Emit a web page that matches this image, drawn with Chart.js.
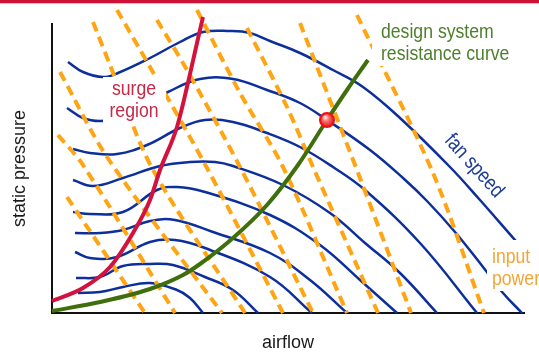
<!DOCTYPE html>
<html>
<head>
<meta charset="utf-8">
<script src="https://cdn.jsdelivr.net/npm/chart.js@4"></script>
<style>
  html, body { margin: 0; padding: 0; background: #fff; }
  #wrap { width: 539px; height: 353px; position: relative; }
</style>
</head>
<body>
<div id="wrap"><canvas id="fanChart"></canvas></div>
<script>
// fan speed curves, one list per speed (top speed first)
const fanAirflow = [
  [16, 31, 51, 66, 98, 128, 151, 178, 198, 218, 248, 281, 311, 348, 398, 428, 463, 488],
  [15, 31, 48, 68, 93, 116, 148, 181, 215, 248, 275, 318, 351, 375, 403, 431, 451, 470],
  [21, 38, 65, 95, 128, 153, 181, 215, 248, 281, 313, 368, 425],
  [21, 41, 71, 108, 138, 163, 181, 231, 278, 313, 348, 385],
  [21, 38, 71, 105, 125, 153, 218, 268, 308, 345],
  [23, 48, 71, 98, 123, 161, 218, 258, 295],
  [23, 38, 65, 98, 123, 153, 218, 260],
  [24, 48, 71, 98, 121, 153, 181, 206],
  [26, 48, 71, 98, 125, 138, 151]
];
const fanPressure = [
  [251, 241, 236, 240, 255, 271, 281, 282, 280, 272, 260, 243, 226, 195, 146, 113, 73, 45],
  [205, 195, 192, 195, 208, 221, 234, 234, 223, 210, 193, 163, 135, 112, 81, 46, 20, 0],
  [164, 160, 159, 168, 185, 193, 191, 180, 166, 146, 123, 70, 0],
  [133, 127, 135, 147, 151, 151, 147, 128, 100, 70, 40, 0],
  [101, 99, 101, 123, 126, 121, 98, 68, 33, 0],
  [80, 80, 83, 92, 93, 81, 60, 33, 0],
  [61, 55, 56, 71, 73, 65, 36, 0],
  [35, 36, 47, 49, 48, 36, 23, 0],
  [20, 21, 26, 30, 23, 15, 0]
];

// input power lines (dashed)
const powerAirflow = [
  [15, 93],
  [6, 31, 123],
  [8, 55, 170],
  [41, 58, 100, 193],
  [65, 98, 155, 231],
  [105, 135, 188, 261],
  [145, 188, 231, 295],
  [195, 235, 261, 326],
  [248, 308, 359],
  [305, 381, 432]
];
const powerPressure = [
  [116, 0],
  [178, 148, 0],
  [241, 156, 0],
  [291, 248, 145, 0],
  [303, 246, 145, 0],
  [293, 243, 146, 0],
  [303, 220, 146, 0],
  [285, 206, 146, 0],
  [290, 135, 0],
  [298, 140, 0]
];

// surge line and design system resistance curve
const surgeAirflow = [0, 31, 58, 81, 98, 108, 125, 135, 145, 151];
const surgePressure = [12, 25, 46, 80, 113, 143, 186, 226, 270, 296];
const systemAirflow = [0, 48, 98, 131, 148, 181, 215, 246, 275, 295, 316];
const systemPressure = [2, 11, 24, 38, 49, 75, 108, 148, 193, 223, 253];

// operating point
const pointAirflow = [275];
const pointPressure = [193];

const FONT = "'Liberation Sans', Arial, sans-serif";

function toPoints(xs, ys) {
  return xs.map((v, i) => ({ x: v, y: ys[i] }));
}

const datasets = [];

datasets.push({
  data: toPoints(pointAirflow, pointPressure),
  showLine: false,
  pointRadius: 7,
  pointBorderWidth: 2,
  pointBorderColor: '#ee1010',
  pointBackgroundColor: (c) => {
    const chart = c.chart;
    if (!c.raw || !chart.chartArea) return '#f04040';
    const cx = chart.scales.x.getPixelForValue(c.raw.x);
    const cy = chart.scales.y.getPixelForValue(c.raw.y);
    const g = chart.ctx.createRadialGradient(cx - 2, cy - 3, 0.5, cx, cy, 7);
    g.addColorStop(0, '#ffe4e4');
    g.addColorStop(0.45, '#f56a6a');
    g.addColorStop(1, '#e01818');
    return g;
  },
  order: 0,
  clip: false
});

datasets.push({
  data: toPoints(surgeAirflow, surgePressure),
  borderColor: '#d3133d',
  borderWidth: 4,
  pointRadius: 0,
  cubicInterpolationMode: 'monotone',
  order: 1,
  clip: false
});

datasets.push({
  data: toPoints(systemAirflow, systemPressure),
  borderColor: '#3f6f0c',
  borderWidth: 4,
  pointRadius: 0,
  cubicInterpolationMode: 'monotone',
  order: 2,
  clip: false
});

powerAirflow.forEach((xs, i) => {
  datasets.push({
    data: toPoints(xs, powerPressure[i]),
    borderColor: '#ffa514',
    borderWidth: 4,
    borderDash: [10, 6],
    pointRadius: 0,
    tension: 0.3,
    order: 3,
    clip: false
  });
});

fanAirflow.forEach((xs, i) => {
  datasets.push({
    data: toPoints(xs, fanPressure[i]),
    borderColor: '#0c2f9c',
    borderWidth: 2.5,
    pointRadius: 0,
    tension: 0.4,
    order: 5,
    clip: false
  });
});

// narrow lettering, like the original artwork
function narrowText(ctx, text, x, y, align) {
  ctx.save();
  ctx.translate(x, y);
  ctx.scale(0.84, 1);
  ctx.textAlign = align;
  ctx.fillText(text, 0, 0);
  ctx.restore();
}

const notes = {
  id: 'notes',
  beforeDraw(chart) {
    const { ctx, width } = chart;
    ctx.save();
    ctx.fillStyle = '#cc1236';
    ctx.fillRect(0, 0, width, 3);
    ctx.fillStyle = '#f2b4c0';
    ctx.fillRect(0, 3, width, 1);
    ctx.restore();
  },
  afterDatasetsDraw(chart) {
    const { ctx } = chart;
    const px = (v) => chart.scales.x.getPixelForValue(v);
    const py = (v) => chart.scales.y.getPixelForValue(v);

    const box = (x0, y0, x1, y1) => {
      ctx.fillStyle = '#fff';
      ctx.fillRect(px(x0), py(y0), px(x1) - px(x0), py(y1) - py(y0));
    };

    ctx.save();
    // white backgrounds behind labels
    box(51, 236, 114, 189);
    box(326, 293, 444, 270);
    box(320, 270, 460, 247);
    box(435, 73, 500, 22);

    ctx.font = '21px ' + FONT;
    ctx.textBaseline = 'alphabetic';

    ctx.fillStyle = '#c82848';
    narrowText(ctx, 'surge', px(82), py(218), 'center');
    narrowText(ctx, 'region', px(82), py(196), 'center');

    ctx.fillStyle = '#4d7f2c';
    narrowText(ctx, 'design system', px(329), py(275), 'left');
    narrowText(ctx, 'resistance curve', px(329), py(253), 'left');

    ctx.fillStyle = '#f4a436';
    narrowText(ctx, 'input', px(440), py(50), 'left');
    narrowText(ctx, 'power', px(440), py(28), 'left');

    ctx.fillStyle = '#1c3b96';
    ctx.translate(px(422), py(147));
    ctx.rotate(48 * Math.PI / 180);
    ctx.textBaseline = 'middle';
    narrowText(ctx, 'fan speed', 0, 0, 'center');
    ctx.restore();
  }
};

new Chart(document.getElementById('fanChart'), {
  type: 'line',
  data: { datasets },
  options: {
    responsive: true,
    maintainAspectRatio: false,
    animation: false,
    events: [],
    layout: { padding: { top: 24, right: 15, bottom: 0, left: 0 } },
    plugins: { legend: { display: false }, tooltip: { enabled: false } },
    scales: {
      x: {
        type: 'linear',
        min: 0,
        max: 472,
        grid: { display: false, drawTicks: false },
        ticks: { display: false },
        border: { display: true, color: '#111', width: 2 },
        title: {
          display: true,
          text: 'airflow',
          color: '#1a1a1a',
          font: { family: FONT, size: 18, lineHeight: 1 },
          padding: { top: 21, bottom: 1 }
        }
      },
      y: {
        type: 'linear',
        min: 0,
        max: 289,
        grid: { display: false, drawTicks: false },
        ticks: { display: false },
        border: { display: true, color: '#111', width: 2 },
        title: {
          display: true,
          text: 'static pressure',
          color: '#1a1a1a',
          font: { family: FONT, size: 18, lineHeight: 1 },
          padding: { top: 11, bottom: 23 }
        }
      }
    }
  },
  plugins: [notes]
});
</script>
</body>
</html>
